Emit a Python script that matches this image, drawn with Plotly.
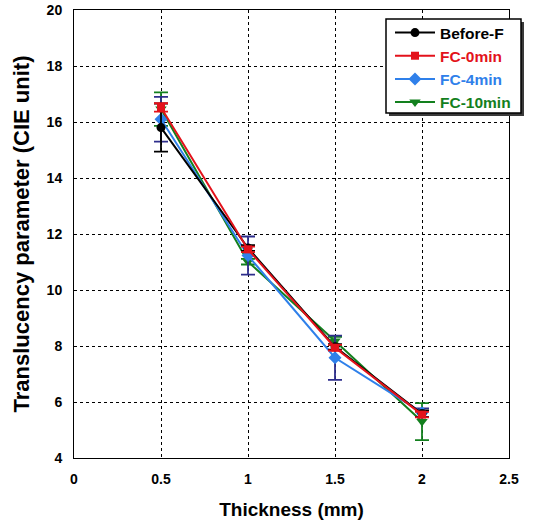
import plotly.graph_objects as go

thickness = [0.5, 1.0, 1.5, 2.0]
before_f = [15.80, 11.50, 7.97, 5.58]
fc_0min = [16.52, 11.45, 7.94, 5.55]
fc_4min = [16.10, 11.23, 7.58, 5.62]
fc_10min = [16.46, 11.01, 8.18, 5.30]

err_before_f = [0.86, 0.10, 0.10, 0.12]
err_fc_0min = [0.15, 0.10, 0.10, 0.10]
err_fc_4min = [0.80, 0.68, 0.79, 0.15]
err_fc_10min = [0.60, 0.10, 0.15, 0.66]

FONT = "Arial, Liberation Sans, sans-serif"

series = [
    ("FC-10min", fc_10min, err_fc_10min, "#13801e", "#13801e", "triangle-down", 10, 4),
    ("FC-4min", fc_4min, err_fc_4min, "#2f80ea", "#2e2e8c", "diamond", 10, 3),
    ("Before-F", before_f, err_before_f, "#000000", "#000000", "circle", 9, 1),
    ("FC-0min", fc_0min, err_fc_0min, "#e3121b", "#e3121b", "square", 8, 2),
]

fig = go.Figure()
for name, vals, errs, col, ecol, sym, size, rank in series:
    fig.add_trace(go.Scatter(
        x=thickness, y=vals,
        name=f"<b><span style='color:{col}'>{name}</span></b>",
        mode="lines+markers",
        line=dict(color=col, width=2),
        marker=dict(color=col, symbol=sym, size=size),
        error_y=dict(type="data", array=errs, visible=True, color=ecol,
                     thickness=1.8, width=7),
        legendrank=rank,
    ))

L, R, T, B = 74, 509, 10, 458
W, H = R - L, B - T


def px(x):
    return (x - L) / W


def py(y):
    return 1 - (y - T) / H


# legend shadow and box
fig.add_shape(type="rect", xref="paper", yref="paper",
              x0=px(389), x1=px(524), y0=py(116), y1=py(22),
              fillcolor="#3a3a3a", line=dict(width=0), layer="above")
fig.add_shape(type="rect", xref="paper", yref="paper",
              x0=px(386), x1=px(521), y0=py(113), y1=py(19),
              fillcolor="white", line=dict(color="black", width=1.5), layer="above")

fig.update_layout(
    width=537, height=524,
    margin=dict(l=L, r=537 - R, t=T, b=524 - B, autoexpand=False),
    paper_bgcolor="white", plot_bgcolor="white",
    font=dict(family=FONT, color="black"),
    showlegend=True,
    legend=dict(
        x=px(390), y=py(16), xanchor="left", yanchor="top",
        bgcolor="rgba(0,0,0,0)", borderwidth=0,
        font=dict(family=FONT, size=15.5, color="black"),
        tracegroupgap=0, itemwidth=40,
    ),
    xaxis=dict(
        range=[0, 2.5], tickvals=[0, 0.5, 1, 1.5, 2, 2.5],
        ticktext=["0", "0.5", "1", "1.5", "2", "2.5"],
        showgrid=True, gridcolor="black", griddash="dot", gridwidth=1,
        showline=True, linecolor="black", linewidth=1, mirror=True,
        zeroline=False, ticks="", automargin=False, ticklabelstandoff=8,
        tickfont=dict(family=FONT, size=14, color="black", weight="bold"),
        title=dict(text="Thickness (mm)", standoff=16,
                   font=dict(family=FONT, size=19, color="black", weight="bold")),
    ),
    yaxis=dict(
        range=[4, 20], tickvals=[4, 6, 8, 10, 12, 14, 16, 18, 20],
        showgrid=True, gridcolor="black", griddash="dot", gridwidth=1,
        showline=True, linecolor="black", linewidth=1, mirror=True,
        zeroline=False, ticks="", automargin=False, ticklabelstandoff=8,
        tickfont=dict(family=FONT, size=14, color="black", weight="bold"),
        title=dict(text="Translucency parameter (CIE unit)", standoff=10,
                   font=dict(family=FONT, size=22, color="black", weight="bold")),
    ),
)

fig.write_html("out.html", config={"displayModeBar": False},
               post_script="document.body.style.margin='0';")
